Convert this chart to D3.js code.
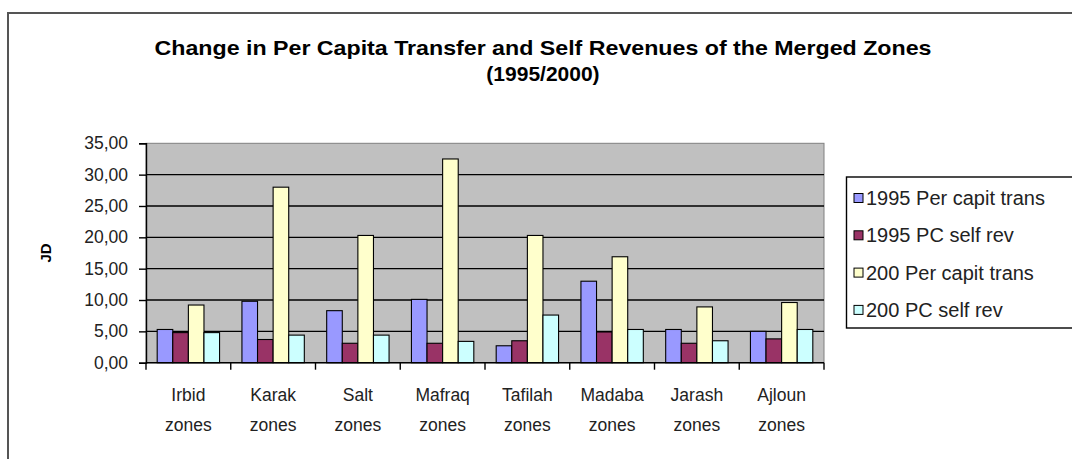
<!DOCTYPE html>
<html><head><meta charset="utf-8">
<script src="https://cdn.jsdelivr.net/npm/d3@7"></script>
<style>body{margin:0;background:#fff}svg{display:block}</style>
</head><body><svg id="c" width="1072" height="459"></svg>
<script>
const categories = ["Irbid zones","Karak zones","Salt zones","Mafraq zones","Tafilah zones","Madaba zones","Jarash zones","Ajloun zones"];
const seriesNames = ["1995 Per capit trans","1995 PC self rev","200 Per capit trans","200 PC self rev"];
const trans1995 = [5.3, 9.8, 8.3, 10.1, 2.7, 13.0, 5.3, 5.0];
const self1995  = [4.8, 3.7, 3.1, 3.1, 3.5, 4.9, 3.1, 3.8];
const trans2000 = [9.2, 28.0, 20.3, 32.5, 20.3, 16.9, 8.9, 9.6];
const self2000  = [4.8, 4.4, 4.4, 3.4, 7.6, 5.3, 3.5, 5.3];
const yTicks = [0,5,10,15,20,25,30,35];
const colors = ["#9999FF","#993366","#FFFFCC","#CCFFFF"];
const series = [trans1995, self1995, trans2000, self2000];

const svg = d3.select("#c");
const font = "Liberation Sans, Arial, sans-serif";
svg.append("rect").attr("x",8).attr("y",13).attr("width",1080).attr("height",460)
  .attr("fill","#fff").attr("stroke","#555").attr("stroke-width",2);

const L=146, R=824, T=143.3, B=362.7;
const x = d3.scaleBand().domain(categories).range([L,R]).paddingInner(0.264).paddingOuter(0.132);
const xs = d3.scaleBand().domain(d3.range(4)).range([0,x.bandwidth()]);
const y = d3.scaleLinear().domain([0,35]).range([B,T]);

svg.append("rect").attr("x",L).attr("y",T).attr("width",R-L).attr("height",B-T)
  .attr("fill","#C0C0C0").attr("stroke","#808080").attr("stroke-width",1);

svg.append("g").selectAll("line").data(yTicks.filter(d=>d>0&&d<35)).join("line")
  .attr("x1",L).attr("x2",R).attr("y1",d=>y(d)).attr("y2",d=>y(d))
  .attr("stroke","#000").attr("stroke-width",1.4);

const g = svg.append("g");
series.forEach((s,i)=>{
  g.append("g").selectAll("rect").data(s).join("rect")
    .attr("x",(d,j)=>x(categories[j])+xs(i))
    .attr("y",d=>y(d)).attr("width",xs.bandwidth()).attr("height",d=>B-y(d))
    .attr("fill",colors[i]).attr("stroke","#000").attr("stroke-width",1.1);
});

const ya = svg.append("g").attr("transform",`translate(${L},0)`)
  .call(d3.axisLeft(y).tickValues(yTicks).tickSize(7).tickPadding(11).tickFormat(d=>d3.format(".2f")(d).replace(".",",")));
ya.select(".domain").attr("stroke","#000").attr("stroke-width",1.4);
ya.selectAll(".tick line").attr("stroke","#000").attr("stroke-width",1.4);
ya.selectAll("text").attr("font-family",font).attr("font-size",17.5).attr("fill","#222");

svg.append("line").attr("x1",L).attr("x2",R).attr("y1",B).attr("y2",B).attr("stroke","#000").attr("stroke-width",1.4);
const bounds = d3.range(categories.length+1).map(i=>L+i*(R-L)/categories.length);
svg.append("g").selectAll("line").data(bounds).join("line")
  .attr("x1",d=>d).attr("x2",d=>d).attr("y1",B).attr("y2",B+7).attr("stroke","#000").attr("stroke-width",1.4);

const xl = svg.append("g").selectAll("text").data(categories).join("text")
  .attr("x",d=>x(d)+x.bandwidth()/2).attr("y",401)
  .attr("text-anchor","middle").attr("font-family",font).attr("font-size",17.5).attr("fill","#222");
xl.each(function(d){
  const parts = d.split(" ");
  const t = d3.select(this);
  t.append("tspan").attr("x",x(d)+x.bandwidth()/2).attr("dy",0).text(parts[0]);
  t.append("tspan").attr("x",x(d)+x.bandwidth()/2).attr("dy",30).text(parts[1]);
});

svg.append("text").attr("transform","translate(51,253) rotate(-90)").attr("text-anchor","middle")
  .attr("font-family",font).attr("font-weight","bold").attr("font-size",15).text("JD");

svg.append("text").attr("x",543).attr("y",55).attr("text-anchor","middle")
  .attr("font-family",font).attr("font-weight","bold").attr("font-size",21)
  .attr("textLength",777).attr("lengthAdjust","spacingAndGlyphs")
  .text("Change in Per Capita Transfer and Self Revenues of the Merged Zones");
svg.append("text").attr("x",543).attr("y",81).attr("text-anchor","middle")
  .attr("font-family",font).attr("font-weight","bold").attr("font-size",21)
  .text("(1995/2000)");

const lg = svg.append("g");
lg.append("rect").attr("x",846.5).attr("y",177).attr("width",240).attr("height",151)
  .attr("fill","#fff").attr("stroke","#000").attr("stroke-width",1.4);
const items = lg.selectAll("g").data(seriesNames).join("g")
  .attr("transform",(d,i)=>`translate(854,${198+i*37.3})`);
items.append("rect").attr("x",0).attr("y",-4.5).attr("width",9).attr("height",9)
  .attr("fill",(d,i)=>colors[i]).attr("stroke","#000").attr("stroke-width",1);
items.append("text").attr("x",12).attr("y",7).attr("font-family",font).attr("font-size",20).attr("fill","#222").text(d=>d);
</script></body></html>
